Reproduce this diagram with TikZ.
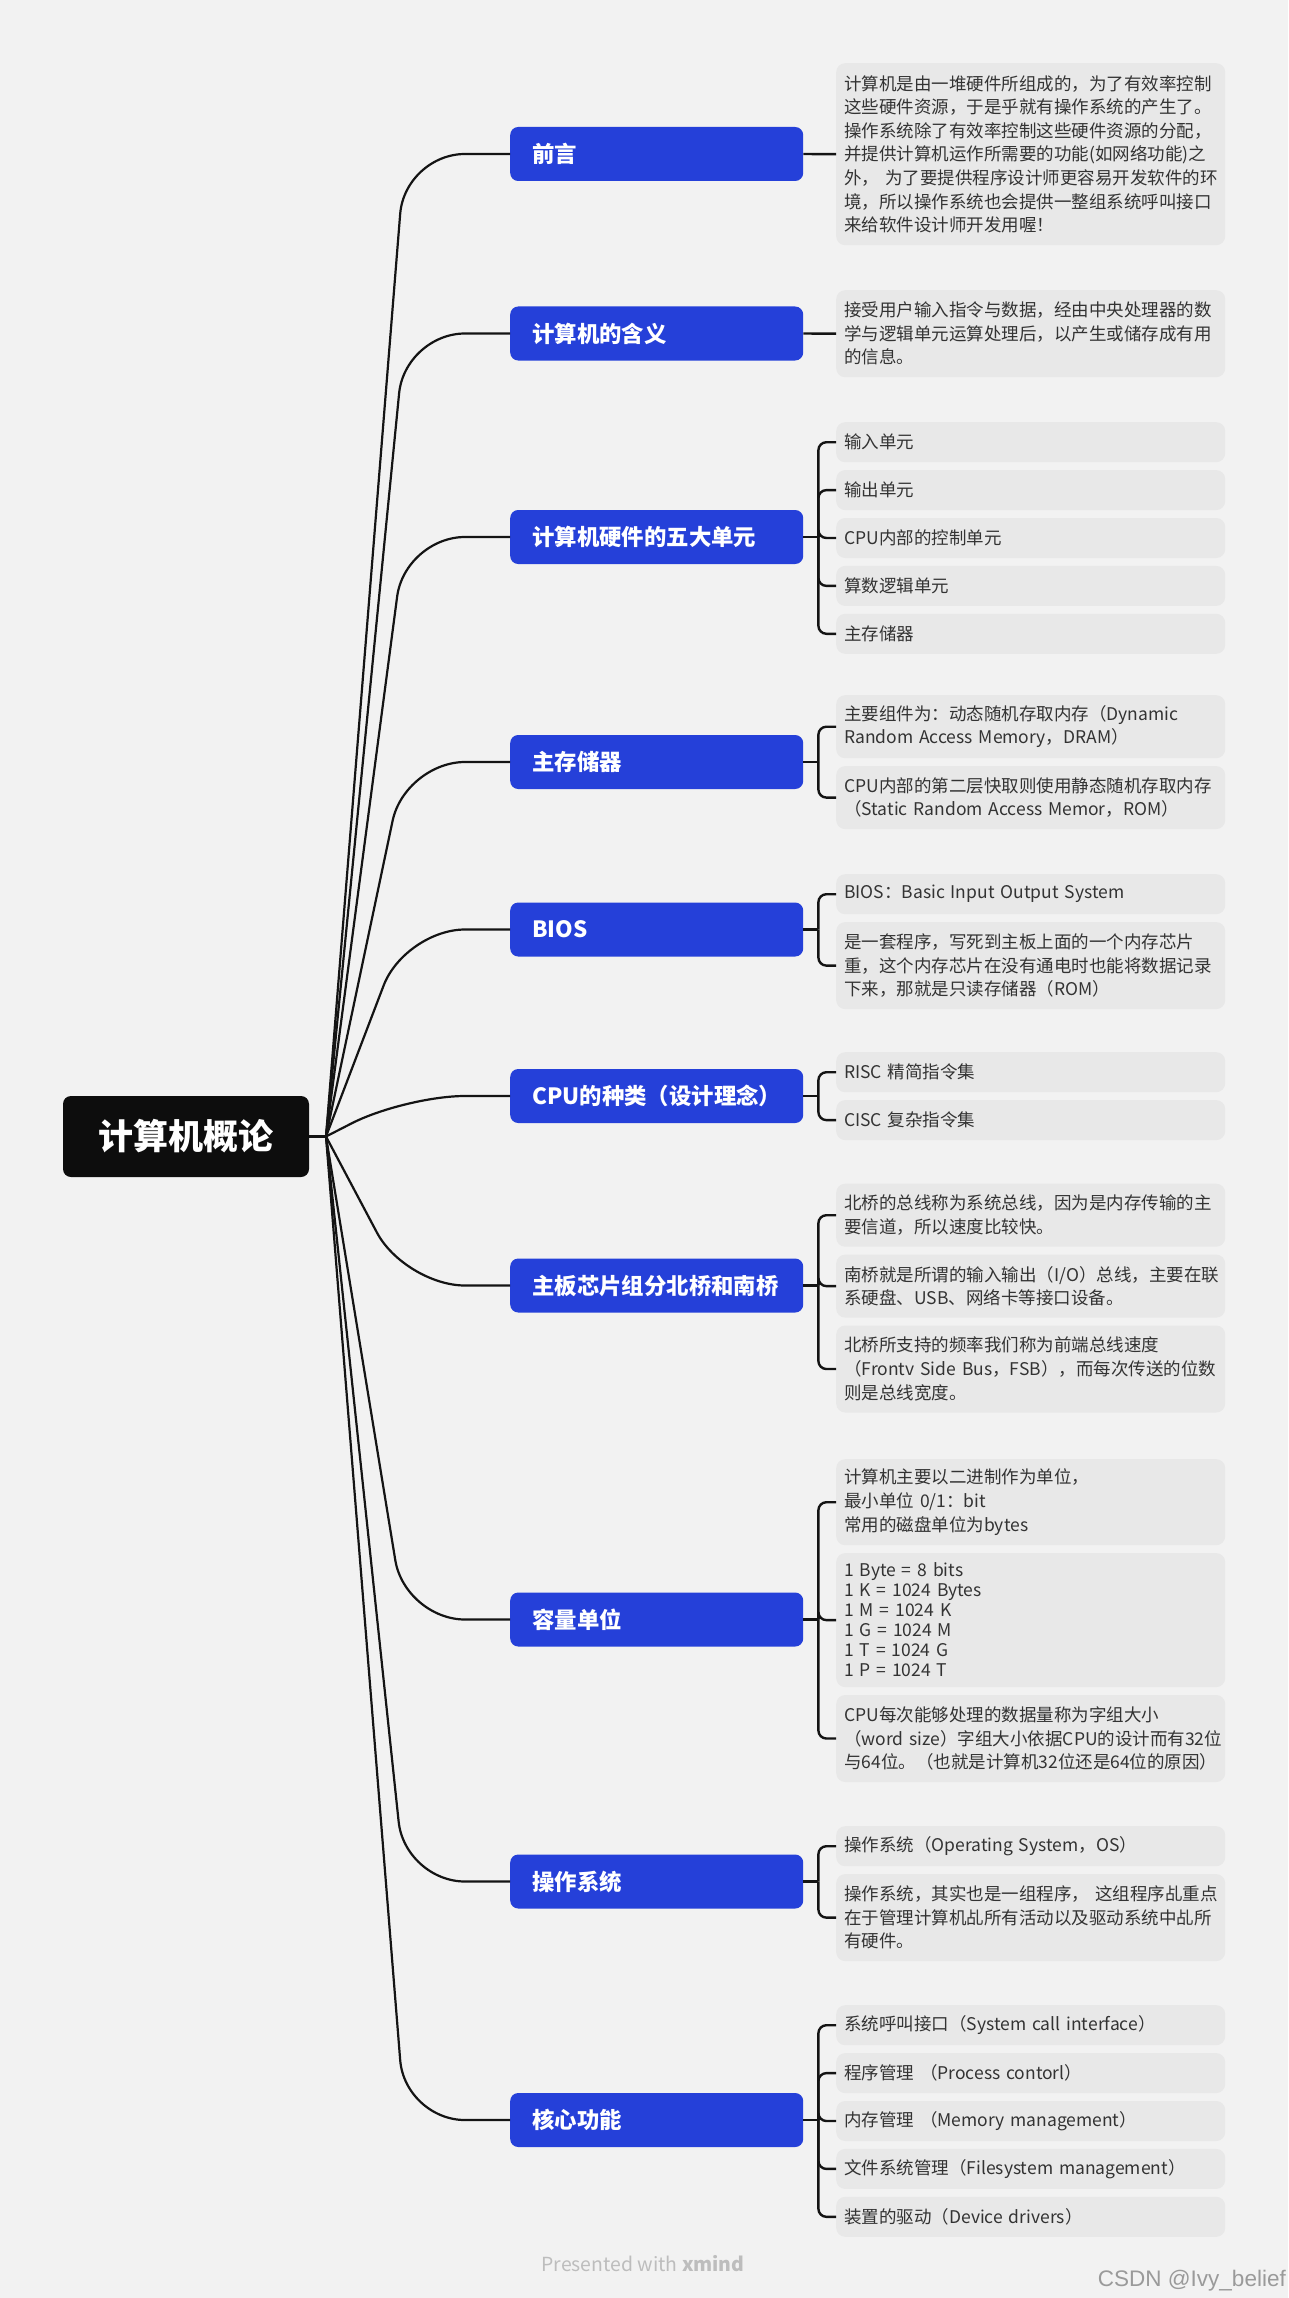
\documentclass[tikz,border=0pt]{standalone}
\usepackage{fontspec}
\setmainfont{Noto Sans CJK SC}
\newfontfamily\wmfont{Liberation Sans}
\usepackage{tikz}
\usetikzlibrary{positioning}

\definecolor{bgcol}{HTML}{F2F2F2}
\definecolor{rootcol}{HTML}{0D0D0D}
\definecolor{topiccol}{HTML}{2540D9}
\definecolor{leafcol}{HTML}{E8E8E8}
\definecolor{leaftext}{HTML}{333333}
\definecolor{linecol}{HTML}{141414}
\definecolor{footcol}{HTML}{BDBDBD}
\definecolor{wmcol}{HTML}{9A9A9A}

\begin{document}
\begin{tikzpicture}[
  x=1pt, y=-1pt,
  root/.style={fill=rootcol, rounded corners=8pt, text=white,
               font=\fontsize{35}{40}\selectfont\bfseries,
               minimum width=246pt, minimum height=81pt, inner sep=0pt},
  topic/.style={fill=topiccol, rounded corners=8pt, text=white, anchor=west,
                font=\fontsize{22.4}{26}\selectfont\bfseries,
                text width=249pt, inner xsep=22pt, inner ysep=0pt,
                minimum height=54pt, align=left},
  leaf/.style={fill=leafcol, rounded corners=9pt, text=leaftext, anchor=north west,
               font=\fontsize{17.5}{23.6}\selectfont,
               text width=373pt, inner xsep=8pt, inner ysep=0pt,
               minimum height=40pt, align=left},
  trunk/.style={draw=linecol, line width=2.2pt, rounded corners=60pt},
  link/.style={draw=linecol, line width=2.4pt, rounded corners=8pt},
  foot/.style={text=footcol, font=\fontsize{19.4}{22}\selectfont, inner sep=0pt}
]
\fill[bgcol] (0,0) rectangle (1288,2298);
\useasboundingbox (0,0) rectangle (1288,2298);

% root
\node[root] (root) at (186,1136.5) {计算机概论};

% topics
\node[topic] (intro) at (510,154) {前言};
\node[topic] (mean) at (510,333.5) {计算机的含义};
\node[topic] (units) at (510,537) {计算机硬件的五大单元};
\node[topic] (mem) at (510,762) {主存储器};
\node[topic] (bios) at (510,929.5) {BIOS};
\node[topic] (cpu) at (510,1096) {CPU的种类（设计理念）};
\node[topic] (board) at (510,1285.5) {主板芯片组分北桥和南桥};
\node[topic] (cap) at (510,1619.5) {容量单位};
\node[topic] (os) at (510,1881.5) {操作系统};
\node[topic] (core) at (510,2120) {核心功能};

% leaves
\node[leaf, minimum height=182pt] (intro1) at (836,63)
  {计算机是由一堆硬件所组成的，为了有效率控制\\
   这些硬件资源，于是乎就有操作系统的产生了。\\
   操作系统除了有效率控制这些硬件资源的分配，\\
   并提供计算机运作所需要的功能(如网络功能)之\\
   外，~为了要提供程序设计师更容易开发软件的环\\
   境，所以操作系统也会提供一整组系统呼叫接口\\
   来给软件设计师开发用喔！};

\node[leaf, minimum height=87pt] (mean1) at (836,290)
  {接受用户输入指令与数据，经由中央处理器的数\\
   学与逻辑单元运算处理后，以产生或储存成有用\\
   的信息。};

\node[leaf] (units1) at (836,422) {输入单元};
\node[leaf, below=7.5pt of units1] (units2) {输出单元};
\node[leaf, below=7.5pt of units2] (units3) {CPU内部的控制单元};
\node[leaf, below=7.5pt of units3] (units4) {算数逻辑单元};
\node[leaf, below=7.5pt of units4] (units5) {主存储器};

\node[leaf, minimum height=63pt] (mem1) at (836,695)
  {主要组件为：动态随机存取内存（Dynamic\\
   Random Access Memory，DRAM）};
\node[leaf, minimum height=63pt, below=7.5pt of mem1] (mem2)
  {CPU内部的第二层快取则使用静态随机存取内存\\
   （Static Random Access Memor，ROM）};

\node[leaf] (bios1) at (836,874) {BIOS：Basic Input Output System};
\node[leaf, minimum height=87pt, below=7.5pt of bios1] (bios2)
  {是一套程序，写死到主板上面的一个内存芯片\\
   重，这个内存芯片在没有通电时也能将数据记录\\
   下来，那就是只读存储器（ROM）};

\node[leaf] (cpu1) at (836,1052) {RISC 精简指令集};
\node[leaf, below=7.5pt of cpu1] (cpu2) {CISC 复杂指令集};

\node[leaf, minimum height=63pt] (board1) at (836,1183.5)
  {北桥的总线称为系统总线，因为是内存传输的主\\
   要信道，所以速度比较快。};
\node[leaf, minimum height=63pt, below=7.5pt of board1] (board2)
  {南桥就是所谓的输入输出（I/O）总线，主要在联\\
   系硬盘、USB、网络卡等接口设备。};
\node[leaf, minimum height=87pt, below=7.5pt of board2] (board3)
  {北桥所支持的频率我们称为前端总线速度\\
   （Frontv Side Bus，FSB），而每次传送的位数\\
   则是总线宽度。};

\node[leaf, minimum height=86pt] (cap1) at (836,1459)
  {计算机主要以二进制作为单位，\\
   最小单位 0/1：bit\\
   常用的磁盘单位为bytes};
\node[leaf, minimum height=134pt, below=7.5pt of cap1,
      font=\fontsize{17.5}{20}\selectfont] (cap2)
  {1 Byte = 8 bits\\
   1 K = 1024 Bytes\\
   1 M = 1024 K\\
   1 G = 1024 M\\
   1 T = 1024 G\\
   1 P = 1024 T};
\node[leaf, minimum height=87pt, below=7.5pt of cap2] (cap3)
  {CPU每次能够处理的数据量称为字组大小\\
   （word size）字组大小依据CPU的设计而有32位\\
   与64位。（也就是计算机32位还是64位的原因）};

\node[leaf] (os1) at (836,1826) {操作系统（Operating System，OS）};
\node[leaf, minimum height=87pt, below=7.5pt of os1] (os2)
  {操作系统，其实也是一组程序，~这组程序乩重点\\
   在于管理计算机乩所有活动以及驱动系统中乩所\\
   有硬件。};

\node[leaf] (core1) at (836,2005) {系统呼叫接口（System call interface）};
\node[leaf, below=7.5pt of core1] (core2) {程序管理 （Process contorl）};
\node[leaf, below=7.5pt of core2] (core3) {内存管理 （Memory management）};
\node[leaf, below=7.5pt of core3] (core4) {文件系统管理（Filesystem management）};
\node[leaf, below=7.5pt of core4] (core5) {装置的驱动（Device drivers）};

% root to topics
\coordinate (hub) at (326,1136.5);
\draw[trunk] (root.east) -- (hub);
\foreach \t in {intro,mean,units,mem,bios,cpu,board,cap,os,core}
  \draw[trunk] (hub) -- ([xshift=-105pt]\t.west) -- (\t.west);

% topics to leaves
\draw[link] (intro.east) -- (intro1.west);
\draw[link] (mean.east) -- (mean1.west);
\foreach \t/\leaves in {units/{units1,units2,units3,units4,units5},
    mem/{mem1,mem2}, bios/{bios1,bios2}, cpu/{cpu1,cpu2},
    board/{board1,board2,board3}, cap/{cap1,cap2,cap3}, os/{os1,os2},
    core/{core1,core2,core3,core4,core5}} {
  \draw[link] (\t.east) -- ++(15pt,0) coordinate (\t-b);
  \foreach \l in \leaves
    \draw[link] (\t-b) |- (\l.west);
}

% footer
\node[foot] (xm) at (643,2264) {Presented with \textbf{xmind}};
\node[text=wmcol, font=\wmfont\fontsize{22.5}{26}\selectfont, inner sep=0pt,
      anchor=east] (wm) at (1286,2281) {CSDN @Ivy\_belief};
\end{tikzpicture}
\end{document}
